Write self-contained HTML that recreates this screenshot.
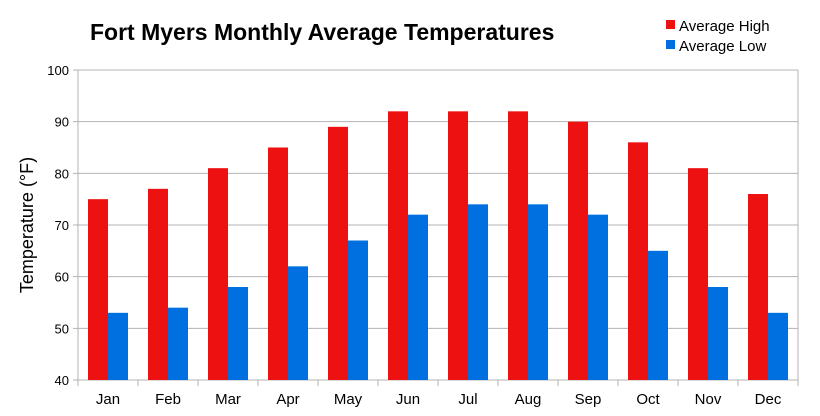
<!DOCTYPE html>
<html><head><meta charset="utf-8"><style>
body{margin:0;background:#fff;}
svg{display:block;font-family:"Liberation Sans",sans-serif;}
</style></head><body>
<svg id="chart" width="820" height="416" viewBox="0 0 820 416">
<text x="90" y="40" font-size="23" font-weight="bold" fill="#000">Fort Myers Monthly Average Temperatures</text>
<g>
<rect x="666" y="20" width="9" height="9" fill="#ee1111"/>
<text x="679" y="31" font-size="15">Average High</text>
<rect x="666" y="40" width="9" height="9" fill="#0070e0"/>
<text x="679" y="51" font-size="15">Average Low</text>
</g>
<text transform="translate(33,225) rotate(-90)" text-anchor="middle" font-size="18">Temperature (°F)</text>
<g id="grid"></g><g id="bars"></g><g id="axes"></g>
</svg>
<script>
const categories=["Jan","Feb","Mar","Apr","May","Jun","Jul","Aug","Sep","Oct","Nov","Dec"];
const highs=[75,77,81,85,89,92,92,92,90,86,81,76];
const lows=[53,54,58,62,67,72,74,74,72,65,58,53];
const yTicks=[40,50,60,70,80,90,100];
const L=78,R=798,T=70,B=380,yMin=40,yMax=100;
const cw=(R-L)/categories.length;
function y(v){return B-(v-yMin)/(yMax-yMin)*(B-T);}
function x(i){return L+i*cw;}
const NS="http://www.w3.org/2000/svg";
function mk(tag,attrs,parent){const e=document.createElementNS(NS,tag);for(const k in attrs)e.setAttribute(k,attrs[k]);document.getElementById(parent).appendChild(e);return e;}
yTicks.forEach(t=>{
 const g=mk('line',{x1:L-5,x2:R,y1:y(t),y2:y(t),stroke:'#b3b3b3','stroke-width':1},'grid');
 
 
 const tx=mk('text',{x:L-9,y:y(t)+5,'text-anchor':'end','font-size':13},'axes');
 tx.textContent=t;
 
 
});
const bx=mk('line',{x1:R,x2:R,y1:T,y2:B,stroke:'#b3b3b3'},'grid');


const ax=mk('line',{x1:L,x2:L,y1:T,y2:B,stroke:'#b3b3b3'},'axes');


for(let i=0;i<=categories.length;i++){
 const tk=mk('line',{x1:x(i),x2:x(i),y1:B,y2:B+6,stroke:'#b3b3b3'},'axes');
 
 
}
categories.forEach((c,i)=>{
 const h=mk('rect',{x:x(i)+10,y:y(highs[i]),width:20,height:B-y(highs[i]),fill:'#ee1111'},'bars');
 
 
 const lo=mk('rect',{x:x(i)+30,y:y(lows[i]),width:20,height:B-y(lows[i]),fill:'#0070e0'},'bars');
 
 
 const t=mk('text',{x:x(i)+cw/2,y:404,'text-anchor':'middle','font-size':15},'axes');
 t.textContent=c;
 
 
});
</script>
</body></html>
